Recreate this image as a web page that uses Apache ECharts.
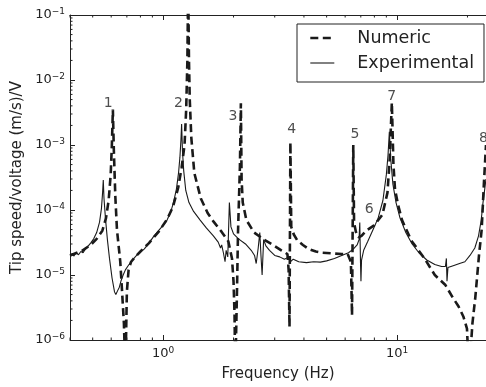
<!DOCTYPE html>
<html>
<head>
<meta charset="utf-8">
<script src="https://cdn.jsdelivr.net/npm/echarts@6/dist/echarts.min.js"></script>
<style>html,body{margin:0;padding:0;background:#fff;}#c{width:486px;height:387px;}</style>
</head>
<body>
<div id="c"></div>
<script>
// ---- data ----
const expFreq = [0.400,0.41,0.415,0.425,0.435,0.445,0.455,0.465,0.475,0.49,0.505,0.52,0.535,0.545,0.551,0.555,0.559,0.567,0.578,0.59,0.605,0.62,0.628,0.64,0.65,0.66,0.675,0.69,0.70,0.71,0.73,0.76,0.79,0.80,0.83,0.87,0.91,0.96,1.00,1.04,1.08,1.11,1.14,1.165,1.18,1.192,1.20,1.21,1.225,1.25,1.29,1.35,1.44,1.53,1.64,1.72,1.76,1.78,1.81,1.84,1.86,1.89,1.92,1.95,2.00,2.10,2.25,2.38,2.46,2.50,2.55,2.59,2.62,2.65,2.69,2.75,2.85,3.00,3.15,3.30,3.45,3.50,3.60,3.80,4.10,4.40,4.70,5.00,5.40,5.80,6.20,6.50,6.75,6.88,6.93,6.98,7.01,7.05,7.20,7.50,7.90,8.30,8.70,9.00,9.15,9.27,9.40,9.60,9.90,10.3,10.9,11.6,12.4,13.4,14.5,15.5,16.1,16.25,16.35,16.5,17.5,18.5,19.5,20.5,21.5,22.3,22.9,23.3,23.7,24.0];
const expVal  = [2.0e-5,2.15e-5,1.95e-5,2.2e-5,2.05e-5,2.3e-5,2.2e-5,2.5e-5,2.7e-5,3.1e-5,3.6e-5,4.5e-5,6.5e-5,1.05e-4,1.8e-4,2.9e-4,1.5e-4,7.5e-5,3.5e-5,1.8e-5,9e-6,5.5e-6,5.0e-6,5.8e-6,6.5e-6,8e-6,1.0e-5,1.2e-5,1.15e-5,1.4e-5,1.6e-5,1.9e-5,2.2e-5,2.05e-5,2.5e-5,3.1e-5,3.9e-5,4.9e-5,5.8e-5,7.0e-5,9.5e-5,1.35e-4,2.1e-4,3.8e-4,6.5e-4,1.2e-3,2.1e-3,8e-4,4e-4,2.0e-4,1.3e-4,9.5e-5,7.0e-5,5.3e-5,4.0e-5,3.2e-5,2.6e-5,2.9e-5,2.2e-5,1.6e-5,2.4e-5,1.9e-5,1.3e-4,5.5e-5,4.3e-5,3.6e-5,3.0e-5,2.4e-5,2.0e-5,1.5e-5,2.6e-5,4.5e-5,2.0e-5,1.0e-5,3.5e-5,2.8e-5,2.4e-5,2.0e-5,1.9e-5,1.75e-5,1.9e-5,1.6e-5,1.75e-5,1.6e-5,1.55e-5,1.6e-5,1.58e-5,1.65e-5,1.8e-5,2.0e-5,2.2e-5,2.5e-5,2.9e-5,3.5e-5,6.4e-5,1.5e-5,8e-6,1.7e-5,2.4e-5,3.3e-5,5.0e-5,7.5e-5,1.4e-4,3.5e-4,7e-4,1.6e-3,6e-4,2.5e-4,1.3e-4,7.5e-5,4.5e-5,3.0e-5,2.2e-5,1.7e-5,1.45e-5,1.35e-5,1.35e-5,1.8e-5,8e-6,1.3e-5,1.4e-5,1.5e-5,1.6e-5,2.0e-5,2.6e-5,4.0e-5,7e-5,1.3e-4,2.1e-4,3.0e-4];

const numFreq = [0.400,0.45,0.49,0.52,0.55,0.57,0.585,0.597,0.604,0.61,0.616,0.625,0.635,0.656,0.667,0.68,0.69,0.70,0.712,0.73,0.76,0.80,0.87,0.96,1.04,1.10,1.16,1.20,1.235,1.255,1.27,1.28,1.29,1.30,1.32,1.36,1.45,1.55,1.65,1.78,1.90,1.97,2.00,2.02,2.035,2.07,2.09,2.13,2.15,2.165,2.19,2.27,2.45,2.7,2.95,3.2,3.40,3.44,3.47,3.50,3.53,3.62,3.75,3.96,4.2,4.5,4.8,5.3,5.8,6.15,6.35,6.42,6.50,6.55,6.67,6.85,7.05,7.37,7.98,8.66,9.1,9.3,9.4,9.5,9.65,9.8,10.1,10.5,11.5,13.1,14.5,16.1,17.3,18.3,19.2,19.9,20.3,21.0,21.6,22.4,23.0,23.5,24.0];
const numVal  = [2.0e-5,2.35e-5,2.9e-5,3.6e-5,4.8e-5,7.5e-5,1.4e-4,3.5e-4,1.0e-3,3.5e-3,8e-4,1.6e-4,5e-5,1.6e-5,6e-6,1.8e-6,3e-7,5.5e-6,1.2e-5,1.6e-5,1.9e-5,2.3e-5,3.1e-5,4.7e-5,7.2e-5,1.1e-4,2.2e-4,4.5e-4,1.0e-3,3.5e-3,0.02,0.3,0.02,5e-3,1.3e-3,3.7e-4,1.5e-4,9e-5,6.5e-5,4.6e-5,3.3e-5,1.8e-5,8e-6,2.5e-6,3e-7,6e-6,4.5e-5,4.7e-4,4.4e-3,3e-4,1.3e-4,7e-5,4.5e-5,3.5e-5,2.9e-5,2.4e-5,2.1e-5,1.2e-5,1.6e-6,1.1e-3,5.5e-5,4.2e-5,3.4e-5,2.9e-5,2.5e-5,2.3e-5,2.2e-5,2.15e-5,2.1e-5,2.1e-5,1.6e-5,2.4e-6,1.0e-3,6.4e-5,4.6e-5,3.8e-5,4.0e-5,4.8e-5,5.8e-5,8.5e-5,1.85e-4,6e-4,1.7e-3,4.5e-3,5e-4,2.1e-4,1.2e-4,7e-5,3.4e-5,1.8e-5,1.0e-5,7e-6,4.5e-6,3.3e-6,2.3e-6,1.5e-6,3e-7,1.8e-6,4.5e-6,2e-5,5e-5,2.5e-4,1.0e-3];

const peakLabelText = ['1','2','3','4','5','6','7','8'];
const peakLabelFreq = [0.582,1.162,1.99,3.55,6.61,7.60,9.49,23.4];
const peakLabelVal  = [4.4e-3,4.4e-3,2.75e-3,1.77e-3,1.44e-3,1.02e-4,5.6e-3,1.25e-3];

const xMin = 0.4, xMax = 24, yMin = 1e-6, yMax = 1e-1;
const xMinorTicks = [0.4,0.5,0.6,0.7,0.8,0.9,2,3,4,5,6,7,8,9,20];
const yMinorTicks = [];
[1e-6,1e-5,1e-4,1e-3,1e-2].forEach(function(d){ for (let k=2;k<=9;k++) yMinorTicks.push(+(k*d).toPrecision(3)); });

// ---- chart ----
const FONT = 'DejaVu Sans';
const INK = '#222';
const numLine = {color: '#1a1a1a', width: 2.6, type: [8, 4.5]};
const expLine = {color: '#1a1a1a', width: 1.1, type: 'solid'};
function powLabel(v){
  const e = Math.log10(v);
  const n = Math.round(e);
  if (Math.abs(e - n) > 1e-6) return '';
  return '{b|10}{s|' + String(n).replace('-', '\u2212') + '}';
}
const labelRich = {
  b: {fontFamily: FONT, fontSize: 13, color: INK, lineHeight: 16},
  s: {fontFamily: FONT, fontSize: 9, color: INK, lineHeight: 10, verticalAlign: 'top'}
};
const chart = echarts.init(document.getElementById('c'), null, {renderer: 'canvas'});
const pair = (xs, ys) => xs.map((x, i) => [x, ys[i]]);

chart.setOption({
  animation: false,
  backgroundColor: '#fff',
  textStyle: {fontFamily: FONT},
  grid: {left: 70, right: 0, top: 15, bottom: 46, containLabel: false},
  legend: {
    data: [
      {name: 'Numeric', lineStyle: numLine, itemStyle: {opacity: 0}},
      {name: 'Experimental', lineStyle: expLine, itemStyle: {opacity: 0}}
    ],
    orient: 'vertical',
    left: 297, top: 24,
    padding: [4, 10, 9, 12],
    itemGap: 5,
    itemWidth: 24, itemHeight: 14,
    borderColor: INK, borderWidth: 1, borderRadius: 0,
    backgroundColor: '#fff',
    itemStyle: {opacity: 0},
    textStyle: {fontFamily: FONT, fontSize: 17.5, color: INK, padding: [0, 0, 0, 18], lineHeight: 20},
    selectedMode: false
  },
  xAxis: [{
    type: 'log', logBase: 10, min: xMin, max: xMax,
    name: 'Frequency (Hz)', nameLocation: 'middle', nameGap: 27,
    nameTextStyle: {fontFamily: FONT, fontSize: 15, color: INK},
    axisLine: {show: true, onZero: false, lineStyle: {color: INK, width: 1}},
    axisTick: {show: true, inside: true, length: 5, lineStyle: {color: INK, width: 1}},
    axisLabel: {formatter: powLabel, rich: labelRich, margin: 6, showMinLabel: false, showMaxLabel: false},
    splitLine: {show: false}, minorTick: {show: false}
  }, {
    type: 'log', logBase: 10, min: xMin, max: xMax, position: 'top',
    axisLine: {show: true, onZero: false, lineStyle: {color: INK, width: 1}},
    axisTick: {show: true, inside: true, length: 5, lineStyle: {color: INK, width: 1}},
    axisLabel: {show: false}, splitLine: {show: false}
  }],
  yAxis: {
    type: 'log', logBase: 10, min: yMin, max: yMax,
    name: 'Tip speed/voltage (m/s)/V', nameLocation: 'middle', nameGap: 43,
    nameTextStyle: {fontFamily: FONT, fontSize: 15, color: INK},
    axisLine: {show: true, onZero: false, lineStyle: {color: INK, width: 1}},
    axisTick: {show: true, inside: true, length: 5, lineStyle: {color: INK, width: 1}},
    axisLabel: {formatter: powLabel, rich: labelRich, margin: 5},
    splitLine: {show: false}
  },
  series: [
    {
      name: 'Numeric', type: 'line', xAxisIndex: 0, data: pair(numFreq, numVal),
      symbol: 'none', showSymbol: false, clip: true, z: 3,
      lineStyle: numLine,
      itemStyle: {color: '#1a1a1a'}
    },
    {
      name: 'Experimental', type: 'line', xAxisIndex: 0, data: pair(expFreq, expVal),
      symbol: 'none', showSymbol: false, clip: true, z: 4,
      lineStyle: expLine,
      itemStyle: {color: '#1a1a1a'}
    },
    {
      name: 'peaks', type: 'scatter', xAxisIndex: 0, symbolSize: 0, silent: true, z: 5,
      data: peakLabelFreq.map((f, i) => ({value: [f, peakLabelVal[i]], name: peakLabelText[i]})),
      label: {show: true, position: 'inside', formatter: '{b}', fontFamily: FONT, fontSize: 14, color: INK}
    },
    {
      name: 'xminor', type: 'custom', xAxisIndex: 0, silent: true, clip: false, z: 6,
      data: xMinorTicks.map(v => [v, yMin]),
      renderItem: function(params, api){
        const p = api.coord([api.value(0), api.value(1)]);
        const cs = params.coordSys;
        const st = {stroke: INK, lineWidth: 1};
        return {type: 'group', children: [
          {type: 'line', shape: {x1: p[0], y1: cs.y + cs.height, x2: p[0], y2: cs.y + cs.height - 2.5}, style: st},
          {type: 'line', shape: {x1: p[0], y1: cs.y, x2: p[0], y2: cs.y + 2.5}, style: st}
        ]};
      }
    },
    {
      name: 'yminor', type: 'custom', xAxisIndex: 0, silent: true, clip: false, z: 6,
      data: yMinorTicks.map(v => [xMin, v]),
      renderItem: function(params, api){
        const p = api.coord([api.value(0), api.value(1)]);
        const cs = params.coordSys;
        return {type: 'line', shape: {x1: cs.x, y1: p[1], x2: cs.x + 2.5, y2: p[1]}, style: {stroke: INK, lineWidth: 1}};
      }
    }
  ]
});
</script>
</body>
</html>
